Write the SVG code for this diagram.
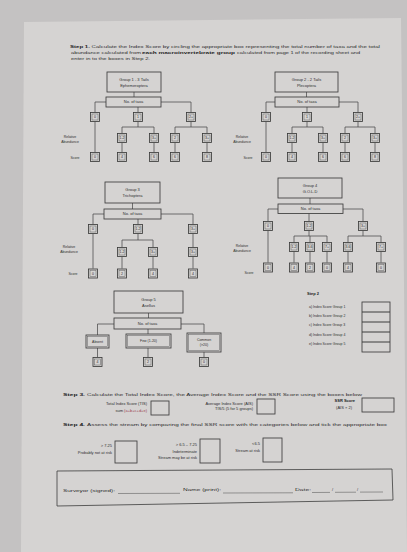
<svg xmlns="http://www.w3.org/2000/svg" xmlns:xlink="http://www.w3.org/1999/xlink" width="407" height="552" viewBox="0 0 407 552">
<style>
.t{font-family:"Liberation Sans",Arial,sans-serif;fill:#2e2e2e;font-size:4px}
.c{text-anchor:middle}
.e{text-anchor:end}
.s{font-size:3.5px}
.b{font-weight:bold;fill:#222}
.bx{fill:none;stroke:#3c3c3c;stroke-width:0.85}
.in{fill:none;stroke:#5e5e5e;stroke-width:0.5}
.cn path{fill:none;stroke:#4a4a4a;stroke-width:0.75}
.ul{stroke:#4a4a4a;stroke-width:0.5}
.red{fill:#9a4050}
</style>
<defs>
<g id="sb"><rect class="bx" x="0.5" y="0.5" width="9" height="9"/><rect class="in" x="2" y="2" width="6" height="6"/></g>
</defs>
<rect width="407" height="552" fill="#c4c2c2"/>
<polygon points="24,22 401,18 407,552 21,552" fill="#d5d3d2"/>

<g id="step1">
<text class="t" x="70" y="47.5" font-size="4.6" textLength="310" lengthAdjust="spacingAndGlyphs"><tspan class="b">Step 1.</tspan> Calculate the Index Score by circling the appropriate box representing the total number of taxa and the total</text>
<text class="t" x="71" y="53.5" font-size="4.6" textLength="70" lengthAdjust="spacingAndGlyphs">abundance calculated from</text>
<text class="t b" x="142" y="53.5" font-size="4.6" textLength="93" lengthAdjust="spacingAndGlyphs">each macroinvertebrate group</text>
<text class="t" x="237" y="53.5" font-size="4.6" textLength="123" lengthAdjust="spacingAndGlyphs">calculated from page 1 of the recording sheet and</text>
<text class="t" x="71" y="59.5" font-size="4.6" textLength="79" lengthAdjust="spacingAndGlyphs">enter in to the boxes in Step 2.</text>
</g>

<g class="cn" id="connectors">
<path d="M134 92V97M106 102H95V112M161 102H191V112M138 107V112M95 122V152M138 122V127M122 127H154M122 127V133M154 127V133M191 122V127M175 127H207M175 127V133M207 127V133M122 143V152M154 143V152M175 143V152M207 143V152"/>
<path d="M306.5 92V97M275 102H266V112M339 102H358V112M307 107V112M266 122V152M307 122V127M292 127H323M292 127V133M323 127V133M358 122V127M345 127H375M345 127V133M375 127V133M292 143V152M323 143V152M345 143V152M375 143V152"/>
<path d="M132.5 203V209M104 214H93V224M161 214H193V224M138 219V224M93 234V268.5M138 234V240M122 240H153M122 240V247M153 240V247M193 234V247M122 257V268.5M153 257V268.5M193 257V268.5"/>
<path d="M310 198V204M278 209H268V221M343 209H363V221M309 213.5V221M268 231V262.5M309 231V236M294 236H327M294 236V242M310 236V242M327 236V242M363 231V236M348 236H381M348 236V242M381 236V242M294 252V262.5M310 252V262.5M327 252V262.5M348 252V262.5M381 252V262.5"/>
<path d="M148.5 313V318M114 324H97.5V335M181 324H204V333M148 329V334M97.5 348V357M148 348V357M204 352V357"/>
</g>

<g id="group1">
<rect class="bx" x="107" y="72" width="54" height="20"/>
<text class="t c" x="134" y="80.5">Group 1 - 3 Tails</text>
<text class="t c" x="134" y="86.5">Ephemeroptera</text>
<rect class="bx" x="106" y="97" width="55" height="10"/>
<text class="t c" x="133.5" y="103.3" font-size="3.8">No. of taxa</text>
<text class="t c s" x="70" y="138">Relative</text>
<text class="t c s" x="70" y="142.5">Abundance</text>
<text class="t c s" x="75" y="158.5">Score</text>
</g>
<g id="g1-nodes">
<use xlink:href="#sb" x="90" y="112"/><text class="t c s" x="95" y="118.3">0</text>
<use xlink:href="#sb" x="133" y="112"/><text class="t c s" x="138" y="118.3">1</text>
<use xlink:href="#sb" x="186" y="112"/><text class="t c s" x="191" y="118.3">2+</text>
<use xlink:href="#sb" x="117" y="133"/><text class="t c s" x="122" y="139.3">1-2</text>
<use xlink:href="#sb" x="149" y="133"/><text class="t c s" x="154" y="139.3">3+</text>
<use xlink:href="#sb" x="170" y="133"/><text class="t c s" x="175" y="139.3">2</text>
<use xlink:href="#sb" x="202" y="133"/><text class="t c s" x="207" y="139.3">3+</text>
<use xlink:href="#sb" x="90" y="152"/><text class="t c s" x="95" y="158.3">0</text>
<use xlink:href="#sb" x="117" y="152"/><text class="t c s" x="122" y="158.3">4</text>
<use xlink:href="#sb" x="149" y="152"/><text class="t c s" x="154" y="158.3">6</text>
<use xlink:href="#sb" x="170" y="152"/><text class="t c s" x="175" y="158.3">6</text>
<use xlink:href="#sb" x="202" y="152"/><text class="t c s" x="207" y="158.3">8</text>
</g>

<g id="group2">
<rect class="bx" x="275" y="72" width="63" height="20"/>
<text class="t c" x="306.5" y="80.5">Group 2 - 2 Tails</text>
<text class="t c" x="306.5" y="86.5">Plecoptera</text>
<rect class="bx" x="275" y="97" width="64" height="10"/>
<text class="t c" x="307" y="103.3" font-size="3.8">No. of taxa</text>
<text class="t c s" x="242" y="138">Relative</text>
<text class="t c s" x="242" y="142.5">Abundance</text>
<text class="t c s" x="248" y="158.5">Score</text>
</g>
<g id="g2-nodes">
<use xlink:href="#sb" x="261" y="112"/><text class="t c s" x="266" y="118.3">0</text>
<use xlink:href="#sb" x="302" y="112"/><text class="t c s" x="307" y="118.3">1</text>
<use xlink:href="#sb" x="353" y="112"/><text class="t c s" x="358" y="118.3">2+</text>
<use xlink:href="#sb" x="287" y="133"/><text class="t c s" x="292" y="139.3">1-2</text>
<use xlink:href="#sb" x="318" y="133"/><text class="t c s" x="323" y="139.3">3+</text>
<use xlink:href="#sb" x="340" y="133"/><text class="t c s" x="345" y="139.3">2</text>
<use xlink:href="#sb" x="370" y="133"/><text class="t c s" x="375" y="139.3">3+</text>
<use xlink:href="#sb" x="261" y="152"/><text class="t c s" x="266" y="158.3">0</text>
<use xlink:href="#sb" x="287" y="152"/><text class="t c s" x="292" y="158.3">4</text>
<use xlink:href="#sb" x="318" y="152"/><text class="t c s" x="323" y="158.3">6</text>
<use xlink:href="#sb" x="340" y="152"/><text class="t c s" x="345" y="158.3">6</text>
<use xlink:href="#sb" x="370" y="152"/><text class="t c s" x="375" y="158.3">8</text>
</g>

<g id="group3">
<rect class="bx" x="105" y="182" width="55" height="21"/>
<text class="t c" x="132.5" y="191">Group 3</text>
<text class="t c" x="132.5" y="197">Trichoptera</text>
<rect class="bx" x="104" y="209" width="57" height="10"/>
<text class="t c" x="132.5" y="215.3" font-size="3.8">No. of taxa</text>
<text class="t c s" x="69" y="248">Relative</text>
<text class="t c s" x="69" y="252.5">Abundance</text>
<text class="t c s" x="73" y="274.8">Score</text>
</g>
<g id="g3-nodes">
<use xlink:href="#sb" x="88" y="224"/><text class="t c s" x="93" y="230.3">0</text>
<use xlink:href="#sb" x="133" y="224"/><text class="t c s" x="138" y="230.3">1-2</text>
<use xlink:href="#sb" x="188" y="224"/><text class="t c s" x="193" y="230.3">3+</text>
<use xlink:href="#sb" x="117" y="247"/><text class="t c s" x="122" y="253.3">1-2</text>
<use xlink:href="#sb" x="148" y="247"/><text class="t c s" x="153" y="253.3">3+</text>
<use xlink:href="#sb" x="188" y="247"/><text class="t c s" x="193" y="253.3">3+</text>
<use xlink:href="#sb" x="88" y="268.5"/><text class="t c s" x="93" y="274.8">0</text>
<use xlink:href="#sb" x="117" y="268.5"/><text class="t c s" x="122" y="274.8">2</text>
<use xlink:href="#sb" x="148" y="268.5"/><text class="t c s" x="153" y="274.8">4</text>
<use xlink:href="#sb" x="188" y="268.5"/><text class="t c s" x="193" y="274.8">4</text>
</g>

<g id="group4">
<rect class="bx" x="278" y="178" width="64" height="20"/>
<text class="t c" x="310" y="186.5">Group 4</text>
<text class="t c" x="310" y="192.5">G.O.L.D</text>
<rect class="bx" x="278" y="204" width="65" height="9.5"/>
<text class="t c" x="310.5" y="210" font-size="3.8">No. of taxa</text>
<text class="t c s" x="242" y="247">Relative</text>
<text class="t c s" x="242" y="251.5">Abundance</text>
<text class="t c s" x="249" y="273.5">Score</text>
</g>
<g id="g4-nodes">
<use xlink:href="#sb" x="263" y="221"/><text class="t c s" x="268" y="227.3">0</text>
<use xlink:href="#sb" x="304" y="221"/><text class="t c s" x="309" y="227.3">1-2</text>
<use xlink:href="#sb" x="358" y="221"/><text class="t c s" x="363" y="227.3">3+</text>
<use xlink:href="#sb" x="289" y="242"/><text class="t c s" x="294" y="248.3">1-2</text>
<use xlink:href="#sb" x="305" y="242"/><text class="t c s" x="310" y="248.3">3-6</text>
<use xlink:href="#sb" x="322" y="242"/><text class="t c s" x="327" y="248.3">7+</text>
<use xlink:href="#sb" x="343" y="242"/><text class="t c s" x="348" y="248.3">3-6</text>
<use xlink:href="#sb" x="376" y="242"/><text class="t c s" x="381" y="248.3">7+</text>
<use xlink:href="#sb" x="263" y="262.5"/><text class="t c s" x="268" y="268.8">0</text>
<use xlink:href="#sb" x="289" y="262.5"/><text class="t c s" x="294" y="268.8">4</text>
<use xlink:href="#sb" x="305" y="262.5"/><text class="t c s" x="310" y="268.8">2</text>
<use xlink:href="#sb" x="322" y="262.5"/><text class="t c s" x="327" y="268.8">0</text>
<use xlink:href="#sb" x="343" y="262.5"/><text class="t c s" x="348" y="268.8">4</text>
<use xlink:href="#sb" x="376" y="262.5"/><text class="t c s" x="381" y="268.8">0</text>
</g>

<g id="group5">
<rect class="bx" x="114" y="291" width="69" height="22"/>
<text class="t c" x="148.5" y="300.5">Group 5</text>
<text class="t c" x="148.5" y="306.5">Asellus</text>
<rect class="bx" x="114" y="318" width="67" height="11"/>
<text class="t c" x="147.5" y="324.8" font-size="3.8">No. of taxa</text>
</g>
<g id="g5-nodes">
<rect class="bx" x="86" y="335" width="23" height="13"/><rect class="in" x="87.3" y="336.3" width="20.4" height="10.4"/>
<text class="t c s" x="97.5" y="342.8">Absent</text>
<rect class="bx" x="126" y="334" width="45" height="14"/><rect class="in" x="127.3" y="335.3" width="42.4" height="11.4"/>
<text class="t c s" x="148.5" y="342.3">Few (1-20)</text>
<rect class="bx" x="187" y="333" width="34" height="19"/><rect class="in" x="188.3" y="334.3" width="31.4" height="16.4"/>
<text class="t c s" x="204" y="341">Common</text>
<text class="t c s" x="204" y="346">(&gt;20)</text>
<use xlink:href="#sb" x="92.5" y="357"/><text class="t c s" x="97.5" y="363.3">4</text>
<use xlink:href="#sb" x="143" y="357"/><text class="t c s" x="148" y="363.3">2</text>
<use xlink:href="#sb" x="199" y="357"/><text class="t c s" x="204" y="363.3">0</text>
</g>

<g id="step2">
<text class="t b" x="307" y="294.5" font-size="5.5">Step 2</text>
<text class="t s" x="309" y="307.5">a) Index Score Group 1</text>
<text class="t s" x="309" y="316.8">b) Index Score Group 2</text>
<text class="t s" x="309" y="326">c) Index Score Group 3</text>
<text class="t s" x="309" y="335.5">d) Index Score Group 4</text>
<text class="t s" x="309" y="345">e) Index Score Group 5</text>
<rect class="bx" x="362" y="302" width="28" height="50" stroke-width="1"/>
<path d="M362 312H390M362 322H390M362 332H390M362 342H390" stroke="#3c3c3c" stroke-width="1"/>
</g>

<g id="step3">
<text class="t b" x="63" y="395.5" font-size="6" textLength="22" lengthAdjust="spacingAndGlyphs">Step 3.</text>
<text class="t" x="87" y="395.5" font-size="5.4" textLength="275" lengthAdjust="spacingAndGlyphs">Calculate the Total Index Score, the Average Index Score and the SSR Score using the boxes below</text>
<text class="t e" x="147" y="405" font-size="3.8">Total Index Score (TIS)</text>
<text class="t e" x="147" y="412" font-size="3.8">sum <tspan class="red">(a+b+c+d+e)</tspan></text>
<rect class="bx" x="151" y="401" width="18" height="14" stroke-width="1"/>
<text class="t e" x="253" y="404.5" font-size="3.8">Average Index Score (AIS)</text>
<text class="t e" x="253" y="410" font-size="3.8">TIS/5 (5 for 5 groups)</text>
<rect class="bx" x="257" y="399" width="18" height="15" stroke-width="1"/>
<text class="t e b" x="355" y="402" font-size="3.8">SSR Score</text>
<text class="t e" x="352" y="409" font-size="3.8">(AIS × 2)</text>
<rect class="bx" x="362" y="398" width="32" height="14" stroke-width="1"/>
</g>

<g id="step4">
<text class="t b" x="63" y="425.5" font-size="6" textLength="22" lengthAdjust="spacingAndGlyphs">Step 4.</text>
<text class="t" x="87" y="425.5" font-size="5.4" textLength="300" lengthAdjust="spacingAndGlyphs">Assess the stream by comparing the final SSR score with the categories below and tick the appropriate box</text>
<text class="t e" x="112" y="446.5" font-size="3.8">&gt; 7.25</text>
<text class="t e" x="112" y="453.5" font-size="3.8">Probably not at risk</text>
<rect class="bx" x="115" y="441" width="22" height="22" stroke-width="1.1"/>
<text class="t e" x="197" y="445.5" font-size="3.8">&gt; 6.5 – 7.25</text>
<text class="t e" x="197" y="452.5" font-size="3.8">Indeterminate</text>
<text class="t e" x="197" y="458.5" font-size="3.8">Stream may be at risk</text>
<rect class="bx" x="200" y="439" width="20" height="24" stroke-width="1.1"/>
<text class="t e" x="260" y="444.5" font-size="3.8">&lt;6.5</text>
<text class="t e" x="260" y="451.5" font-size="3.8">Stream at risk</text>
<rect class="bx" x="263" y="438" width="19" height="24" stroke-width="1.1"/>
</g>

<g id="signature">
<polygon points="57,471 392,469 393,500 57,506" fill="none" stroke="#3c3c3c" stroke-width="0.8"/>
<text class="t" x="63" y="491.5" textLength="52" lengthAdjust="spacingAndGlyphs">Surveyor (signed):</text>
<line class="ul" x1="118" y1="493.5" x2="180" y2="493.3"/>
<text class="t" x="183" y="491" textLength="38" lengthAdjust="spacingAndGlyphs">Name (print):</text>
<line class="ul" x1="223" y1="493" x2="293" y2="492.8"/>
<text class="t" x="295" y="490.5" textLength="16" lengthAdjust="spacingAndGlyphs">Date:</text>
<line class="ul" x1="312" y1="492.5" x2="330" y2="492.4"/>
<text class="t" x="332" y="491">/</text>
<line class="ul" x1="335" y1="492.3" x2="356" y2="492.2"/>
<text class="t" x="357" y="491">/</text>
<line class="ul" x1="360" y1="492.1" x2="383" y2="492"/>
</g>
</svg>
